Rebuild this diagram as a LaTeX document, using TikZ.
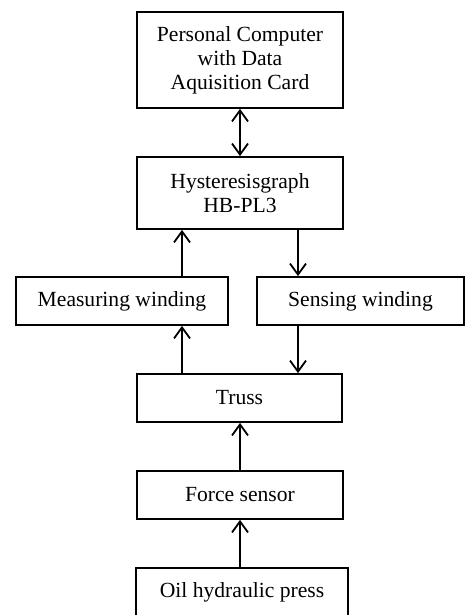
\documentclass[tikz,border=0pt]{standalone}
\usepackage{fontspec}
\setmainfont{Liberation Serif}
\usepackage{tikz}
\usetikzlibrary{positioning,arrows.meta}
\tikzstyle{block} = [draw, line width=0.9pt, inner sep=0pt, align=center, font=\fontsize{10.8}{12}\selectfont]
\tikzstyle{link} = [line width=0.9pt, >={Straight Barb[length=5.5pt,width=8pt,line width=0.9pt]}]

\begin{document}
\begin{tikzpicture}[x=0.5pt,y=-0.5pt]
			\clip (0,0) rectangle (465,615);
			\node[block, minimum width=103pt, minimum height=48pt] (pc) at (240,60) {Personal Computer\\with Data\\Aquisition Card};
			\node[block, minimum width=103pt, minimum height=36pt] (hyst) at (240,193) {Hysteresisgraph\\HB-PL3};
			\node[block, minimum width=106pt, minimum height=24pt] (meas) at (122,301) {Measuring winding};
			\node[block, minimum width=103.5pt, minimum height=24pt] (sens) at (360.5,301) {Sensing winding};
			\node[block, minimum width=102.5pt, minimum height=24pt] (truss) at (239.5,398) {Truss};
			\node[block, minimum width=103pt, minimum height=24pt] (force) at (240,495) {Force sensor};
			\node[block, minimum width=106pt, minimum height=24pt] (oil) at (242,592) {Oil hydraulic press};
			\coordinate (lx) at (182,0);
			\coordinate (rx) at (298,0);
			\draw[link, <->] (pc) -- (hyst);
			\draw[link, ->] (meas.north -| lx) -- (hyst.south -| lx);
			\draw[link, ->] (hyst.south -| rx) -- (sens.north -| rx);
			\draw[link, ->] (truss.north -| lx) -- (meas.south -| lx);
			\draw[link, ->] (sens.south -| rx) -- (truss.north -| rx);
			\draw[link, ->] (force.north -| pc) -- (truss.south -| pc);
			\draw[link, ->] (oil.north -| pc) -- (force.south -| pc);
		\end{tikzpicture}
\end{document}
